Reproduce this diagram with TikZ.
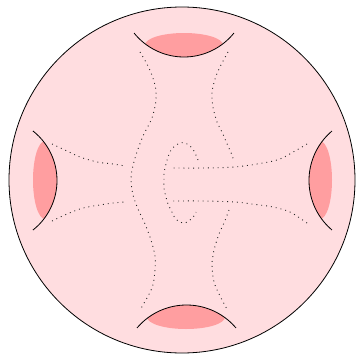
\documentclass[tikz,border=0pt]{standalone}
\definecolor{bgpink}{RGB}{255,221,224}
\definecolor{holepink}{RGB}{255,158,160}
\tikzset{
  boundary/.style={line width=0.8pt, black},
  curvedot/.style={line width=0.9pt, dash pattern=on 0.9pt off 4pt, black!85},
  hole/.style={fill=holepink}
}
\begin{document}
\begin{tikzpicture}[x=1pt,y=-1pt]
\useasboundingbox (0,0) rectangle (356,356);
% sphere
\node[circle, draw, line width=0.8pt, fill=bgpink, minimum size=346pt, inner sep=0pt] (sphere) at (182,180) {};
% holes (shaded)
\begin{scope}
  \clip (184,-7) circle[radius=64];
  \fill[hole] (184,45) ellipse[x radius=39, y radius=12];
\end{scope}
\begin{scope}
  \clip (186.5,369.8) circle[radius=64.8];
  \fill[hole] (186,317) ellipse[x radius=39, y radius=12];
\end{scope}
\begin{scope}
  \clip (-6,180.5) circle[radius=63];
  \fill[hole] (45,180) ellipse[x radius=12, y radius=39];
\end{scope}
\begin{scope}
  \clip (373.8,180.5) circle[radius=64.8];
  \fill[hole] (320,180) ellipse[x radius=12, y radius=39];
\end{scope}
% boundary arcs
\draw[boundary] plot[domain=141.3:38.7, samples=40] ({184+64*cos(\x)},{-7+64*sin(\x)});
\draw[boundary] plot[domain=220.2:319.8, samples=40] ({186.5+64.8*cos(\x)},{369.8+64.8*sin(\x)});
\draw[boundary] plot[domain=-51.8:51.8, samples=40] ({-6+63*cos(\x)},{180.5+63*sin(\x)});
\draw[boundary] plot[domain=130.2:229.8, samples=40] ({373.8+64.8*cos(\x)},{180.5+64.8*sin(\x)});
% dotted curves: horizontal
\draw[curvedot] plot[smooth] coordinates {(52,144) (67,151) (80,157) (97,162) (113,164) (125,166)};
\draw[curvedot] plot[smooth] coordinates {(52,221) (67,214) (83,208) (100,205) (113,203) (125,202)};
\draw[curvedot] plot[smooth] coordinates {(307,144) (295,151) (280,159) (263,163) (235,167) (204,168) (173,168)};
\draw[curvedot] plot[smooth] coordinates {(307,223) (290,212) (273,207) (252,204) (235,202) (204,201) (173,201)};
% dotted curves: vertical
\draw[curvedot] plot[smooth] coordinates {(140,52) (149,68) (155,85) (156,100) (152,118) (143,136) (136,155) (132,170) (131,181) (133,195) (138,209) (145,224) (151,240) (155,256) (155,270) (152,288) (140,310)};
\draw[curvedot] plot[smooth] coordinates {(228,52) (222,63) (216,76) (212,92) (213,107) (217,122) (222,132) (228,146) (232,155) (234,162)};
\draw[curvedot] plot[smooth] coordinates {(229,210) (224,223) (219,234) (214,250) (212,265) (214,282) (220,296) (228,311)};
% inner curve
\draw[curvedot] plot[smooth] coordinates {(198,160) (194,151) (190,146) (185,143) (180,143) (175,146) (171,150) (168,157) (166,164) (164,173) (164,180) (164,188) (166,197) (168,204) (171,210) (175,218) (180,222) (185,223) (190,220) (194,216) (196,212)};
\end{tikzpicture}
\end{document}
